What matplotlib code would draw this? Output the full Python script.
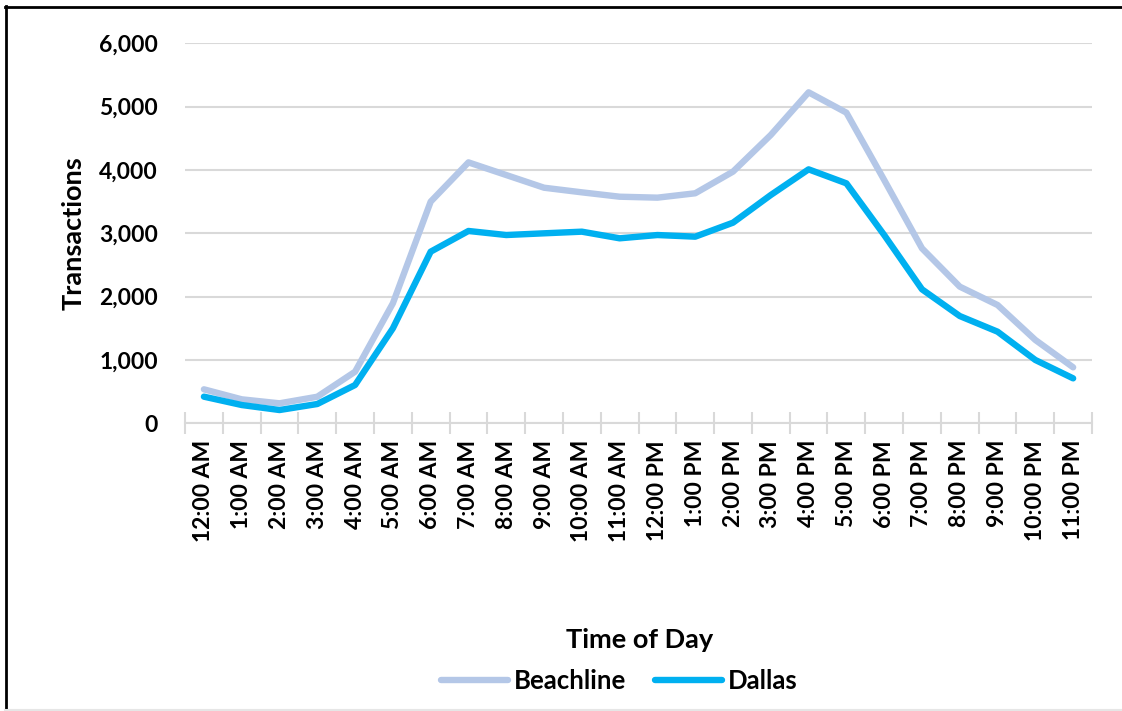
import matplotlib.pyplot as plt
from matplotlib.lines import Line2D
from matplotlib.ticker import FuncFormatter
import numpy as np

plt.rcParams['font.family'] = ['Lato', 'DejaVu Sans']

hours = ["12:00 AM", "1:00 AM", "2:00 AM", "3:00 AM", "4:00 AM", "5:00 AM",
         "6:00 AM", "7:00 AM", "8:00 AM", "9:00 AM", "10:00 AM", "11:00 AM",
         "12:00 PM", "1:00 PM", "2:00 PM", "3:00 PM", "4:00 PM", "5:00 PM",
         "6:00 PM", "7:00 PM", "8:00 PM", "9:00 PM", "10:00 PM", "11:00 PM"]
beachline = [537, 379, 316, 420, 815, 1895, 3500, 4120, 3920, 3720, 3647, 3578,
             3563, 3632, 3974, 4553, 5226, 4905, 3842, 2763, 2158, 1868, 1316, 884]
dallas = [421, 289, 210, 305, 605, 1500, 2710, 3037, 2973, 3000, 3026, 2921,
          2973, 2947, 3168, 3605, 4010, 3789, 2973, 2116, 1694, 1447, 1000, 710]

fig = plt.figure(figsize=(11.22, 7.11), dpi=100)
ax = fig.add_axes([0.1649, 0.4046, 0.8084, 0.5345])

x = np.arange(len(hours))
ax.plot(x, beachline, color='#B4C7E7', lw=4.6, solid_capstyle='round',
        solid_joinstyle='round', label='Beachline')
ax.plot(x, dallas, color='#00B0F0', lw=4.6, solid_capstyle='round',
        solid_joinstyle='round', label='Dallas')

ax.set_xlim(-0.5, len(hours) - 0.5)
ax.set_ylim(0, 6000)
ax.set_yticks(np.arange(0, 6001, 1000))
ax.yaxis.set_major_formatter(FuncFormatter(lambda v, p: f"{int(v):,}"))
ax.grid(axis='y', color='#D9D9D9', lw=1.5)
ax.set_axisbelow(True)

# category labels at centres, tick marks on the boundaries
ax.set_xticks(x)
ax.set_xticklabels(hours, rotation=90, fontsize=16.5, fontweight='bold')
ax.set_xticks(np.arange(-0.5, len(hours)), minor=True)
ax.tick_params(axis='x', which='major', length=0, pad=12)
ax.tick_params(axis='x', which='minor', length=16, width=1.5,
               color='#D9D9D9', direction='inout')
ax.tick_params(axis='y', length=0, pad=19.5, labelsize=16.5)
for lab in ax.get_yticklabels():
    lab.set_fontweight('bold')

for s in ['top', 'right', 'left']:
    ax.spines[s].set_visible(False)
ax.spines['bottom'].set_color('#D9D9D9')
ax.spines['bottom'].set_linewidth(1.5)

ax.set_ylabel("Transactions", fontsize=19.5, fontweight='bold', labelpad=10)
fig.text(0.570, 0.0999, "Time of Day", ha='center', va='center',
         fontsize=19.5, fontweight='bold')

fig.legend(loc='center', bbox_to_anchor=(0.552, 0.042), ncol=2, frameon=False,
           prop={'size': 18.5, 'weight': 'bold'}, handlelength=2.6,
           handletextpad=0.25, columnspacing=1.1)

# frame round the picture
fig.add_artist(Line2D([5.5 / 1122, 5.5 / 1122], [1 - 6 / 711, 1 - 709 / 711],
                      transform=fig.transFigure, color='black', lw=2))
fig.add_artist(Line2D([5 / 1122, 1], [1 - 6.5 / 711, 1 - 6.5 / 711],
                      transform=fig.transFigure, color='black', lw=2))
fig.add_artist(Line2D([5 / 1122, 1], [1 - 709.5 / 711, 1 - 709.5 / 711],
                      transform=fig.transFigure, color='#E6E6E6', lw=1.5))

fig.savefig("out.png", dpi=100, facecolor='white')
